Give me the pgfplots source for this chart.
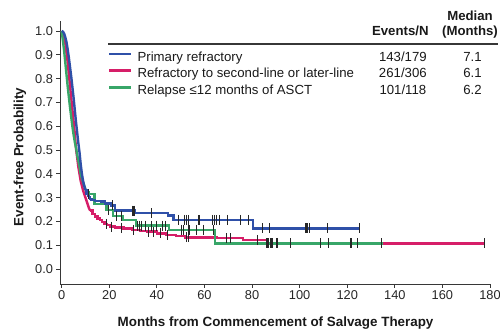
\documentclass[border=0pt]{standalone}
\usepackage{fontspec}
\setmainfont{Liberation Sans}
\usepackage{pgfplots}
\usepackage{pgfplotstable}
\pgfplotsset{compat=1.18}
\definecolor{kmblue}{RGB}{47,80,168}
\definecolor{kmpink}{RGB}{214,30,104}
\definecolor{kmgreen}{RGB}{56,166,104}
\definecolor{axgray}{RGB}{55,55,55}

% Primary refractory: early drop (drawn as line), then KM steps
\pgfplotstableread{
t s
0 1.0
0.5 0.998
1.0 0.99
1.5 0.975
2.0 0.955
2.5 0.925
3.0 0.89
3.5 0.85
4.0 0.81
4.5 0.765
5.0 0.72
5.5 0.67
6.0 0.62
6.5 0.575
7.0 0.53
7.5 0.49
8.0 0.44
8.5 0.40
9.0 0.37
9.5 0.348
10.0 0.332
}\blueA
\pgfplotstableread{
t s
10.0 0.332
10.5 0.318
11.0 0.308
11.5 0.30
12.0 0.295
12.6 0.29
14.0 0.287
16.8 0.283
18.2 0.276
21.0 0.267
22.4 0.245
30.8 0.235
44.8 0.225
47.0 0.206
80.5 0.171
125 0.171
}\blueB
\pgfplotstableread{
t s
21.3 0.267
29.8 0.245
30.4 0.245
37.8 0.235
49 0.206
51.6 0.206
52.3 0.206
53.3 0.206
57.7 0.206
63.3 0.206
64.4 0.206
65.1 0.206
66.5 0.206
69.7 0.206
75 0.206
78.4 0.206
84.5 0.171
87.5 0.171
102.4 0.171
103.1 0.171
104.2 0.171
111.6 0.171
125 0.171
}\blueC

% Refractory to second-line or later-line
\pgfplotstableread{
t s
0 1.0
0.5 0.99
1.0 0.975
1.5 0.95
2.0 0.91
2.5 0.87
3.0 0.82
3.5 0.77
4.0 0.72
4.5 0.67
5.0 0.62
5.5 0.57
6.1 0.50
6.5 0.47
7.0 0.43
7.5 0.40
8.0 0.37
8.5 0.35
9.0 0.33
9.5 0.315
10.0 0.30
10.5 0.285
11.0 0.27
11.5 0.255
12.0 0.245
}\pinkA
\pgfplotstableread{
t s
12.0 0.245
13.0 0.232
14.0 0.22
15.0 0.212
16.0 0.205
17.0 0.198
18.0 0.19
19.0 0.185
20.5 0.178
22.4 0.174
26.0 0.17
29.5 0.164
33.0 0.16
36.0 0.157
40.0 0.15
44.0 0.143
48.0 0.138
52.0 0.133
65.0 0.13
76.3 0.122
86.8 0.108
177.6 0.108
}\pinkB
\pgfplotstableread{
t s
18.9 0.19
21.0 0.178
25.2 0.174
30.1 0.164
36.6 0.157
38.5 0.157
41.5 0.15
44.5 0.143
52.5 0.133
53.2 0.133
69.4 0.13
71.0 0.13
82.2 0.122
177.6 0.108
}\pinkC

% Relapse <=12 months of ASCT
\pgfplotstableread{
t s
0 1.0
0.5 0.96
1.0 0.92
1.5 0.87
2.0 0.82
2.5 0.77
3.0 0.725
3.5 0.68
4.0 0.64
4.5 0.60
5.0 0.565
5.5 0.535
6.2 0.50
6.5 0.48
7.0 0.455
7.5 0.43
8.0 0.40
8.5 0.38
9.0 0.365
9.5 0.35
10.0 0.335
10.5 0.322
}\greenA
\pgfplotstableread{
t s
10.5 0.322
11.5 0.315
13.8 0.272
18.9 0.248
21.5 0.222
25.8 0.205
31.2 0.182
45.0 0.164
64.5 0.108
135 0.108
}\greenB
\pgfplotstableread{
t s
11.2 0.315
19.6 0.248
23.0 0.222
25.0 0.222
31.8 0.182
32.6 0.182
33.6 0.182
35.2 0.182
37.6 0.182
40.0 0.182
42.3 0.182
43.5 0.182
50.5 0.164
51.2 0.164
53.5 0.164
56.8 0.164
59.5 0.164
63.8 0.164
86.3 0.108
87.0 0.108
87.7 0.108
88.4 0.108
90.5 0.108
96.3 0.108
108.9 0.108
112.0 0.108
121.6 0.108
124.4 0.108
134.4 0.108
}\greenC

\begin{document}
\begin{tikzpicture}
\path[use as bounding box] (0,0) rectangle (500bp,330bp);
\begin{axis}[
  at={(60bp,46bp)}, anchor=south west,
  width=431.2bp, height=262.5bp, scale only axis,
  xmin=-0.7, xmax=180.5, ymin=-0.063, ymax=1.04,
  axis x line=bottom, axis y line=left,
  axis line style={-, draw=axgray, line width=1bp},
  xtick={0,20,40,60,80,100,120,140,160,180},
  ytick={0,0.1,0.2,0.3,0.4,0.5,0.6,0.7,0.8,0.9,1.0},
  tick align=outside, major tick length=3.5bp,
  tick style={draw=axgray, line width=1bp},
  ticklabel style={font=\fontsize{12.8bp}{15bp}\selectfont, text=black!85},
  /pgf/number format/assume math mode=true,
  yticklabel style={/pgf/number format/fixed, /pgf/number format/fixed zerofill, /pgf/number format/precision=1},
  xlabel={Months from Commencement of Salvage Therapy},
  ylabel={Event-free Probability},
  label style={font=\bfseries\fontsize{13.4bp}{16bp}\selectfont, text=black!90},
  xlabel style={at={(axis description cs:0.5,-0.1486)}, anchor=center},
  ylabel style={at={(axis description cs:-0.0928,0.484)}, anchor=center},
  legend style={at={(axis description cs:0.1113,0.8899)}, anchor=north west,
    draw=none, fill=none, inner sep=0pt, outer sep=0pt, row sep=0pt,
    font=\fontsize{13.2bp}{16bp}\selectfont, text=black!90,
    nodes={inner sep=0pt, text height=10.6bp, text depth=6bp},
    /tikz/every odd column/.append style={column sep=5bp}},
  legend cell align=left,
  legend image code/.code={\draw[#1] (0bp,4.6bp) -- (22bp,4.6bp);},
]
\addlegendimage{kmblue, line width=2.6bp}
\addlegendentry{\makebox[0pt][l]{Primary refractory}\hspace*{265.3bp}\makebox[0pt]{143/179}\hspace*{69.7bp}\makebox[0pt]{7.1}}
\addlegendimage{kmpink, line width=2.6bp}
\addlegendentry{\makebox[0pt][l]{Refractory to second-line or later-line}\hspace*{265.3bp}\makebox[0pt]{261/306}\hspace*{69.7bp}\makebox[0pt]{6.1}}
\addlegendimage{kmgreen, line width=2.6bp}
\addlegendentry{\makebox[0pt][l]{Relapse ≤12 months of ASCT}\hspace*{265.3bp}\makebox[0pt]{101/118}\hspace*{69.7bp}\makebox[0pt]{6.2}}

\addplot[kmpink, line width=2.4bp, line join=round, forget plot] table[x=t,y=s] {\pinkA};
\addplot[kmpink, line width=2.4bp, const plot, forget plot] table[x=t,y=s] {\pinkB};
\addplot[kmgreen, line width=2.4bp, line join=round, forget plot] table[x=t,y=s] {\greenA};
\addplot[kmgreen, line width=2.4bp, const plot, forget plot] table[x=t,y=s] {\greenB};
\addplot[kmblue, line width=2.4bp, line join=round, forget plot] table[x=t,y=s] {\blueA};
\addplot[kmblue, line width=2.4bp, const plot, forget plot] table[x=t,y=s] {\blueB};

\addplot[only marks, mark=|, mark size=5bp, mark options={draw=black!85, line width=1.1bp}, forget plot] table[x=t,y=s] {\pinkC};
\addplot[only marks, mark=|, mark size=5bp, mark options={draw=black!85, line width=1.1bp}, forget plot] table[x=t,y=s] {\greenC};
\addplot[only marks, mark=|, mark size=5bp, mark options={draw=black!85, line width=1.1bp}, forget plot] table[x=t,y=s] {\blueC};
\end{axis}
\draw[axgray, line width=1.1bp] (108bp,286bp) -- (498bp,286bp);
\node[anchor=base, font=\bfseries\fontsize{13.2bp}{16bp}\selectfont, text=black!90, inner sep=0pt] at (400.3bp,294.5bp) {Events/N};
\node[anchor=base, font=\bfseries\fontsize{13.2bp}{16bp}\selectfont, text=black!90, inner sep=0pt] at (470bp,294.5bp) {(Months)};
\node[anchor=base, font=\bfseries\fontsize{13.2bp}{16bp}\selectfont, text=black!90, inner sep=0pt] at (470bp,309.5bp) {Median};
\end{tikzpicture}
\end{document}
